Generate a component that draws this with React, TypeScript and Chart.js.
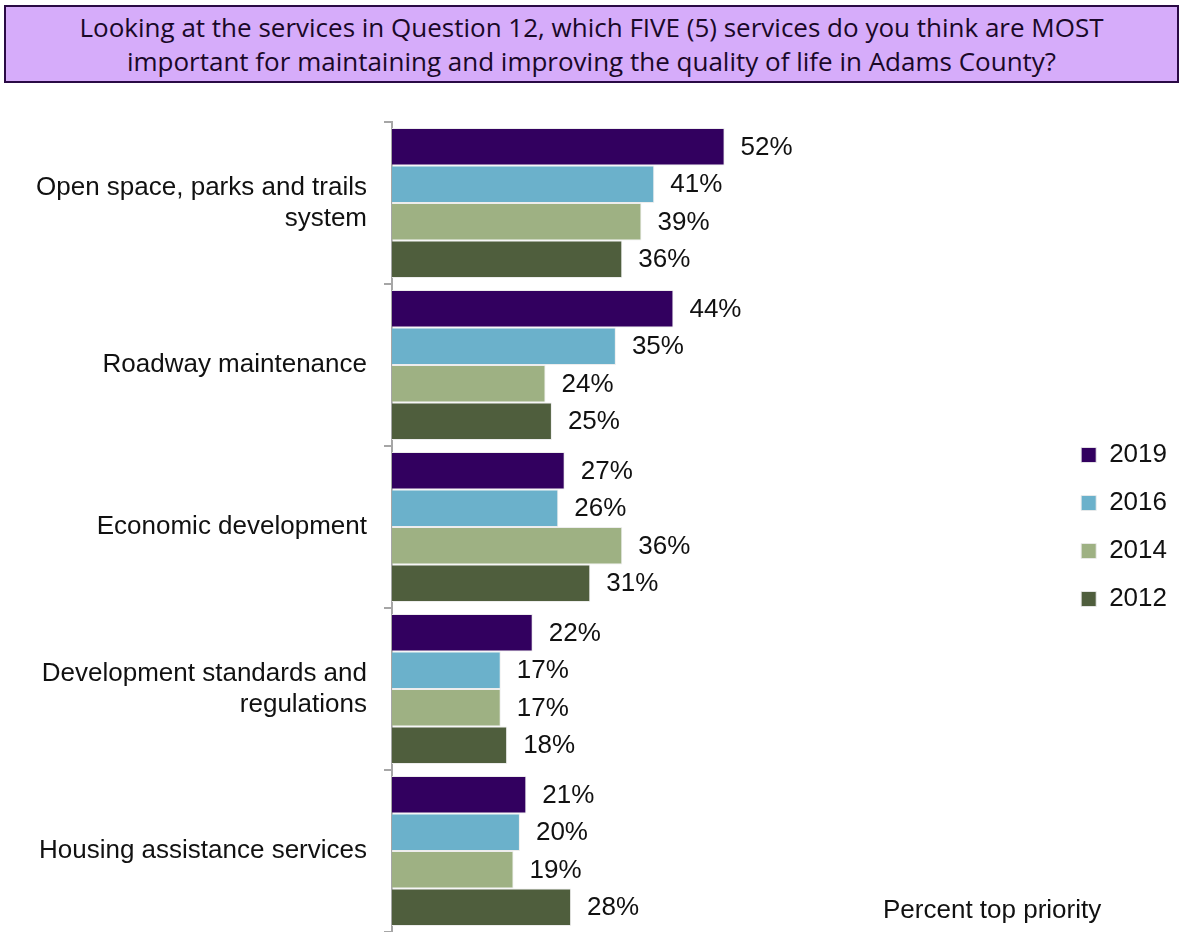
import React, { useEffect, useRef } from "react";
import { Chart, registerables } from "chart.js";

Chart.register(...registerables);

const titleLines = [
  "Looking at the services in Question 12, which FIVE (5) services do you think are MOST",
  "important for maintaining and improving the quality of life in Adams County?",
];

const categories: string[][] = [
  ["Open space, parks and trails", "system"],
  ["Roadway maintenance"],
  ["Economic development"],
  ["Development standards and", "regulations"],
  ["Housing assistance services"],
];

const years = ["2019", "2016", "2014", "2012"];
const values2019 = [52, 44, 27, 22, 21];
const values2016 = [41, 35, 26, 17, 20];
const values2014 = [39, 24, 36, 17, 19];
const values2012 = [36, 25, 31, 18, 28];
const colors = ["#32005f", "#6bb1cb", "#9eb183", "#4f5e3d"];

const axisNote = "Percent top priority";

const FONT = "'Liberation Sans', Arial, sans-serif";

const valueLabels = {
  id: "valueLabels",
  afterDatasetsDraw(chart: any) {
    const ctx = chart.ctx;
    ctx.save();
    ctx.font = `26px ${FONT}`;
    ctx.fillStyle = "#111111";
    ctx.textAlign = "left";
    ctx.textBaseline = "middle";
    chart.data.datasets.forEach((ds: any, di: number) => {
      const meta = chart.getDatasetMeta(di);
      meta.data.forEach((bar: any, i: number) => {
        ctx.fillText(`${ds.data[i]}%`, bar.x + 16, bar.y + 1);
      });
    });
    ctx.restore();
  },
};

export default function App() {
  const ref = useRef<HTMLCanvasElement>(null);

  useEffect(() => {
    if (!ref.current) return;
    const series = [values2019, values2016, values2014, values2012];
    const chart = new Chart(ref.current, {
      type: "bar",
      data: {
        labels: categories,
        datasets: years.map((y, i) => ({
          label: y,
          data: series[i],
          backgroundColor: colors[i],
          borderColor: "rgba(235,235,235,0.9)",
          borderWidth: 1,
          categoryPercentage: 0.926,
          barPercentage: 1.0,
        })),
      },
      options: {
        indexAxis: "y",
        responsive: false,
        animation: false,
        devicePixelRatio: 1,
        layout: { padding: { top: 122, bottom: 0, left: 0, right: 6 } },
        plugins: {
          legend: {
            display: true,
            position: "right",
            labels: {
              boxWidth: 15,
              boxHeight: 15,
              padding: 22,
              color: "#111111",
              font: { family: FONT, size: 26 },
            },
          },
          tooltip: { enabled: false },
          title: { display: false },
        },
        scales: {
          x: {
            display: false,
            min: 0,
            max: 104.3,
            grid: { display: false },
          },
          y: {
            type: "category",
            position: "left",
            grid: {
              display: true,
              drawOnChartArea: false,
              drawTicks: true,
              tickLength: 8,
              color: "#a6a6a6",
              lineWidth: 2,
              offset: true,
            },
            border: { display: true, color: "#a6a6a6", width: 2 },
            ticks: {
              color: "#111111",
              padding: 17,
              font: { family: FONT, size: 26, lineHeight: 1.2 },
            },
            afterFit(scale: any) {
              scale.width = 392;
              scale.paddingTop = 0;
              scale.paddingBottom = 0;
            },
          },
        },
      },
      plugins: [valueLabels],
    });
    return () => chart.destroy();
  }, []);

  return (
    <div style={{ position: "absolute", left: 0, top: 0, width: 1183, height: 932, background: "#ffffff", overflow: "hidden" }}>
      <canvas ref={ref} width={1183} height={932} style={{ position: "absolute", left: 0, top: 0 }} />
      <div
        style={{
          position: "absolute",
          left: 4,
          top: 5,
          width: 1171,
          height: 71,
          background: "#d6acfa",
          border: "2px solid #2a0a45",
          fontFamily: "'Open Sans', sans-serif",
          fontSize: 26,
          lineHeight: "34px",
          color: "#1a0828",
          textAlign: "center",
          paddingTop: 3,
          boxSizing: "content-box",
        }}
      >
        {titleLines.map((t, i) => (
          <div key={i} style={{ whiteSpace: "nowrap" }}>{t}</div>
        ))}
      </div>
      <div
        style={{
          position: "absolute",
          left: 883,
          top: 894,
          fontFamily: FONT,
          fontSize: 26,
          color: "#111111",
          whiteSpace: "nowrap",
        }}
      >
        {axisNote}
      </div>
    </div>
  );
}
